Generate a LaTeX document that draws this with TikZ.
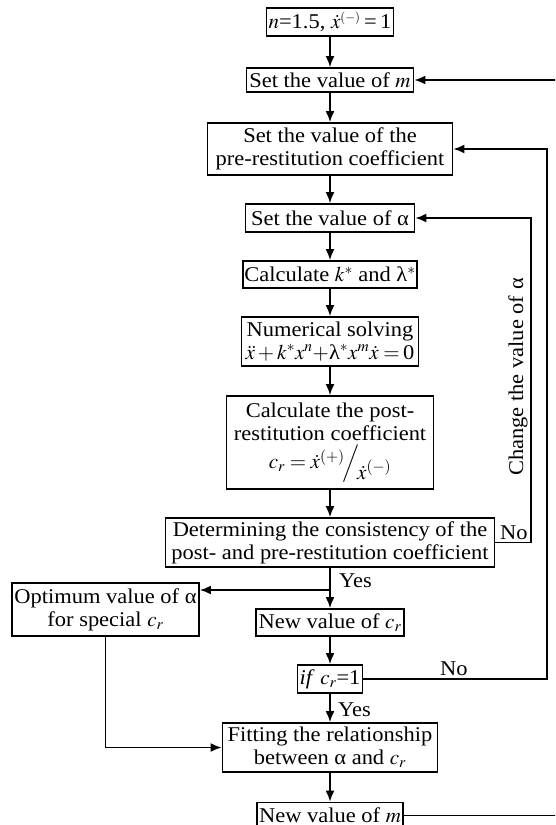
\documentclass[tikz,border=0pt]{standalone}
\usepackage{mathptmx}
\usepackage[no-math]{fontspec}
\setmainfont{Liberation Serif}[FakeStretch=1.07]
\usetikzlibrary{arrows.meta}
\newcommand\figfont{\fontsize{21}{23}\selectfont}
\begin{document}
\begin{tikzpicture}[x=1pt,y=-1pt,
  box/.style={draw,line width=1.8pt,inner sep=0pt,align=center,font=\figfont},
  arr/.style={line width=1.8pt,-{Latex[length=11pt,width=9pt]}},
  lbl/.style={font=\figfont,inner sep=0pt}]
\useasboundingbox (0,0) rectangle (555,825);
\clip (0,0) rectangle (555,825);
\node[box,minimum width=127pt,minimum height=28pt] (b1) at (330,22) {$n$=1.5, $\dot{x}^{\scriptscriptstyle(-)}$\,=\,1};
\node[box,minimum width=167pt,minimum height=24pt] (b2) at (330,80) {Set the value of $m$};
\node[box,minimum width=245pt,minimum height=52pt] (b3) at (330,149) {Set the value of the\\pre-restitution coefficient};
\node[box,minimum width=169pt,minimum height=28pt] (b4) at (330,218) {Set the value of α};
\node[box,minimum width=174pt,minimum height=27pt] (b5) at (330,274.5) {Calculate $k^{*}$ and λ$^{*}$};
\node[box,minimum width=177pt,minimum height=49pt] (b6) at (330,341.5) {Numerical solving\\$\ddot{x}+k^{*}x^{n}+$λ$^{*}x^{m}\dot{x}=$\,0};
\node[box,minimum width=207pt,minimum height=93pt] (b7) at (330,442.5) {Calculate the post-\\restitution coefficient\\[3pt]$c_r=\dot{x}^{(+)}\!\Big/\!\raisebox{-1.1ex}{$\dot{x}^{(-)}$}$};
\node[box,minimum width=329pt,minimum height=49pt] (b8) at (330,542.5) {Determining the consistency of the\\post- and pre-restitution coefficient};
\node[box,minimum width=187pt,minimum height=53pt] (opt) at (105.5,609.5) {Optimum value of α\\for special $c_r$};
\node[box,minimum width=148pt,minimum height=27pt] (ncr) at (330,622.5) {New value of $c_r$};
\node[box,minimum width=65pt,minimum height=28pt] (ifc) at (330,679) {\textit{if} $c_r$=1};
\node[box,minimum width=215pt,minimum height=49pt] (fit) at (330,747.5) {Fitting the relationship\\between α and $c_r$};
\node[box,minimum width=146pt,minimum height=26pt] (nm) at (330,815.5) {New value of $m$};
\coordinate (br) at (330,590);
\coordinate (ra) at (531,0);
\coordinate (rb) at (547,0);
\coordinate (rc) at (560,0);
\draw[arr] (b1) -- (b2);
\draw[arr] (b2) -- (b3);
\draw[arr] (b3) -- (b4);
\draw[arr] (b4) -- (b5);
\draw[arr] (b5) -- (b6);
\draw[arr] (b6) -- (b7);
\draw[arr] (b7) -- (b8);
\draw[arr] (b8) -- (ncr);
\draw[arr] (br) -- (opt.east |- br);
\draw[arr] (ncr) -- (ifc);
\draw[arr] (ifc) -- (fit);
\draw[arr] (fit) -- (nm);
\draw[arr] (opt.south) |- (fit.west);
\draw[arr] (b8.east) -- (b8.east -| ra) -- (ra |- b4.east) -- (b4.east);
\draw[arr] (ifc.east) -- (ifc.east -| rb) -- (rb |- b3.east) -- (b3.east);
\draw[arr] (nm.east) -- (nm.east -| rc) -- (rc |- b2.east) -- (b2.east);
\node[lbl,anchor=base west] (yes1) at (339,587) {Yes};
\node[lbl,anchor=base west] (yes2) at (338,716) {Yes};
\node[lbl,anchor=base west] (no1) at (500,539) {No};
\node[lbl,anchor=base west] (no2) at (440,675) {No};
\node[lbl,rotate=90] (chg) at (518,377) {Change the value of α};
\end{tikzpicture}
\end{document}
